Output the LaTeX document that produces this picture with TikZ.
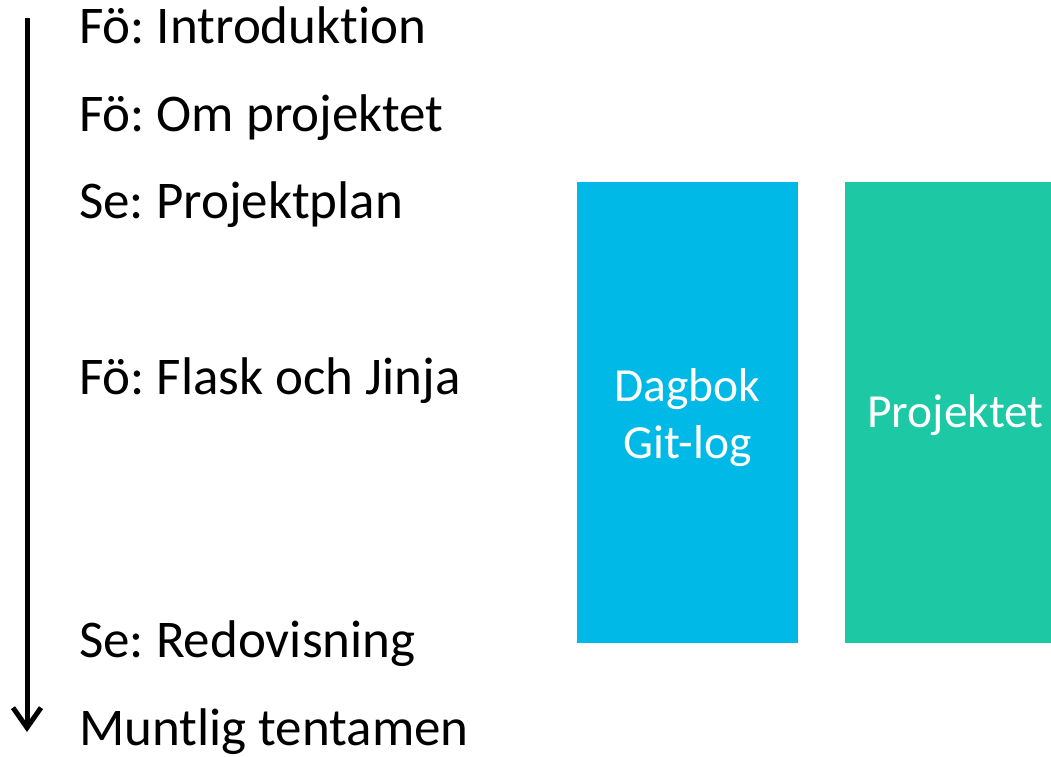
\documentclass[tikz,border=0pt]{standalone}
\usepackage{fontspec}
\setmainfont{Carlito}[Ligatures=NoCommon]
\usepackage{xcolor}
\usetikzlibrary{arrows.meta}
\definecolor{dagblue}{RGB}{0,185,230}
\definecolor{projgreen}{RGB}{29,200,165}
\frenchspacing
\begin{document}
\begin{tikzpicture}[x=1pt,y=-1pt,
    item/.style={anchor=base west,inner sep=0pt,font=\fontsize{53}{60}\selectfont},
    block/.style={minimum width=221pt,minimum height=461pt,inner sep=0pt},
    blocktext/.style={text=white,align=center,inner sep=0pt,font=\fontsize{47.5}{57}\selectfont}]
      \clip (0,0) rectangle (1051,756);
      \node[item] (intro) at (79,43) {Fö: Introduktion};
      \node[item] (omproj) at (79,131) {Fö: Om projektet};
      \node[item] (plan) at (79,218.5) {Se: Projektplan};
      \node[item] (flask) at (79,394.5) {Fö: Flask och Jinja};
      \node[item] (redov) at (79,657.5) {Se: Redovisning};
      \node[item] (muntlig) at (79,745) {Muntlig tentamen};
        % tidslinje
      \coordinate (start) at (27,18);
      \coordinate (slut) at (27,732);
      \draw[line width=5pt,-{Straight Barb[length=20pt,width=28pt]}] (start) -- (slut);
        % block
      \node[block,fill=dagblue] (dagbok) at (687.5,412.5) {};
      \node[block,fill=projgreen] (projekt) at (955.5,412.5) {};
      \node[blocktext] (dagboktext) at ([yshift=-5pt]dagbok.center) {Dagbok\\Git-log};
      \node[blocktext] (projekttext) at ([yshift=-3pt]projekt.center) {Projektet};
\end{tikzpicture}
\end{document}
